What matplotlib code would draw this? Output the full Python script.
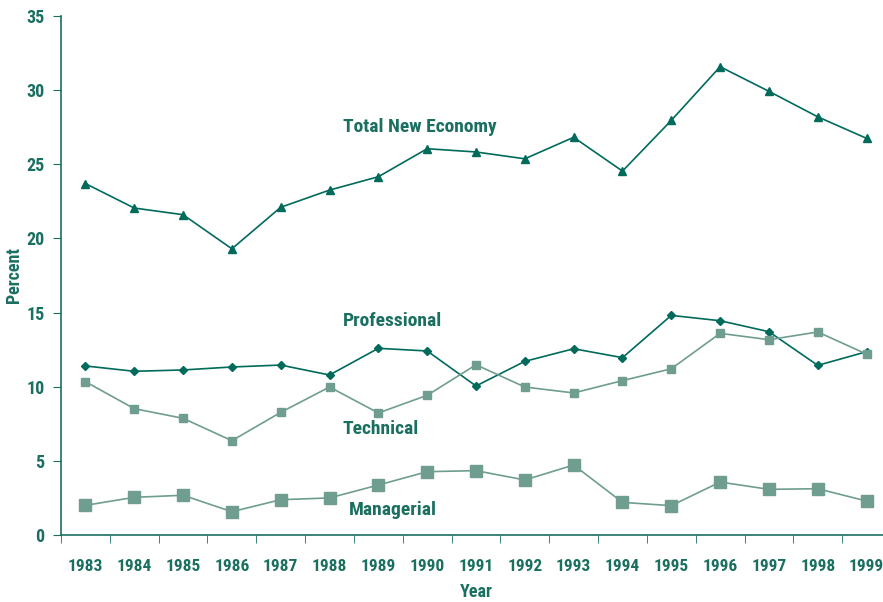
import matplotlib
matplotlib.use("Agg")
import matplotlib.pyplot as plt
from matplotlib.ticker import FixedLocator

years = list(range(1983, 2000))
total_new_economy = [23.7, 22.05, 21.6, 19.3, 22.1, 23.26, 24.16, 26.05, 25.83,
                     25.37, 26.82, 24.54, 27.96, 31.58, 29.92, 28.2, 26.75]
professional = [11.4, 11.04, 11.13, 11.33, 11.46, 10.79, 12.59, 12.41, 10.05,
                11.71, 12.56, 11.96, 14.81, 14.45, 13.71, 11.44, 12.36]
technical = [10.34, 8.52, 7.87, 6.36, 8.27, 9.98, 8.23, 9.42, 11.48,
             9.98, 9.58, 10.41, 11.21, 13.6, 13.17, 13.69, 12.2]
managerial = [2.0, 2.54, 2.68, 1.57, 2.38, 2.5, 3.37, 4.27, 4.34,
              3.71, 4.72, 2.2, 1.98, 3.57, 3.08, 3.12, 2.29]

dark = "#006a5b"
light = "#6f9d90"
text_col = "#1b6f61"

plt.rcParams['font.family'] = ['Roboto Condensed', 'DejaVu Sans']
plt.rcParams['font.weight'] = 'bold'
plt.rcParams['axes.labelweight'] = 'bold'

fig = plt.figure(figsize=(8.83, 6.02), dpi=100)
ax = fig.add_axes([61 / 883, 67 / 602, 830 / 883, 519 / 602])

ax.plot(years, total_new_economy, color=dark, linewidth=1.2, marker='^', markersize=6)
ax.plot(years, professional, color=dark, linewidth=1.2, marker='D', markersize=4.5)
ax.plot(years, technical, color=light, linewidth=1.2, marker='s', markersize=6)
ax.plot(years, managerial, color=light, linewidth=1.2, marker='s', markersize=9)

ax.text(1988.27, 27.5, "Total New Economy", color=text_col, fontsize=14, va='center')
ax.text(1988.27, 14.43, "Professional", color=text_col, fontsize=14, va='center')
ax.text(1988.27, 7.15, "Technical", color=text_col, fontsize=14, va='center')
ax.text(1988.4, 1.69, "Managerial", color=text_col, fontsize=14, va='center')

ax.set_xlim(1982.5, 1999.5)
ax.set_ylim(0, 35)
ax.set_yticks(range(0, 36, 5))
ax.set_xticks(years)
ax.xaxis.set_minor_locator(FixedLocator([y - 0.5 for y in years]))
ax.tick_params(axis='x', which='major', length=0, pad=17, labelsize=12.5, colors=text_col)
ax.tick_params(axis='x', which='minor', length=6, color=text_col, direction='out')
ax.tick_params(axis='y', length=6, color=text_col, labelsize=13, labelcolor=text_col, pad=6)
for lbl in ax.get_xticklabels() + ax.get_yticklabels():
    lbl.set_fontweight('bold')

for s in ['top', 'right']:
    ax.spines[s].set_visible(False)
for s in ['left', 'bottom']:
    ax.spines[s].set_color(text_col)
    ax.spines[s].set_linewidth(1.2)

ax.set_ylabel("Percent", color=text_col, fontsize=13, fontweight='bold')
ax.set_xlabel("Year", color=text_col, fontsize=13, fontweight='bold')
ax.yaxis.set_label_coords(-47 / 830, (535 - 275) / 519)
ax.xaxis.set_label_coords((476 - 61) / 830, -(592 - 535) / 519)
ax.xaxis.label.set_va('center')
ax.yaxis.label.set_va('center')

fig.savefig("out.png", dpi=100)
